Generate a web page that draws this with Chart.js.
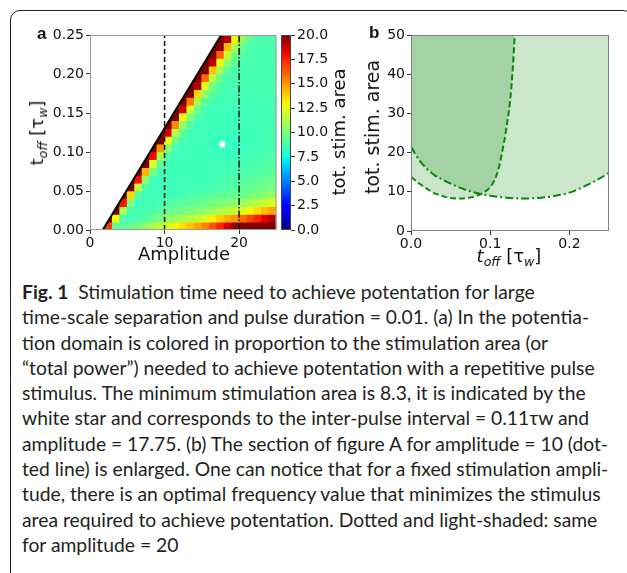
<!DOCTYPE html>
<html>
<head>
<meta charset="utf-8">
<script src="https://cdn.jsdelivr.net/npm/chart.js@4.4.1/dist/chart.umd.min.js"></script>
<style>
body { margin:0; background:#fff; width:627px; height:573px; overflow:hidden; position:relative; font-family:"DejaVu Sans", sans-serif; }
canvas { position:absolute; }
#frame { position:absolute; left:10px; top:10px; width:621px; height:640px; border:1.4px solid #231f20; border-radius:10px; }
.rot { position:absolute; transform:translate(-50%,-50%) rotate(-90deg); white-space:nowrap; font-size:18px; color:#111; }
.hz { position:absolute; transform:translate(-50%,-50%); white-space:nowrap; font-size:18px; color:#111; }
.tag { position:absolute; font-family:"Liberation Sans", Arial, sans-serif; font-weight:bold; font-size:17px; color:#111; }
sub { font-size:0.7em; vertical-align:-0.3em; font-style:italic; }
#caption { position:absolute; left:22px; top:279px; font-family:Lato, sans-serif; font-size:19.3px; line-height:25.3px; color:#231f20; white-space:nowrap; }
</style>
</head>
<body>
<div id="frame"></div>
<canvas id="heat" width="282" height="250" style="left:0;top:20px"></canvas>
<canvas id="cbar" width="100" height="230" style="left:270px;top:20px"></canvas>
<canvas id="section" width="262" height="251" style="left:350px;top:20px"></canvas>

<div class="tag" style="left:37px;top:24px">a</div>
<div class="tag" style="left:369px;top:23px">b</div>
<div class="rot" style="left:38px;top:133px">t<sub>off</sub> [τ<sub>w</sub>]</div>
<div class="hz" style="left:184px;top:253px">Amplitude</div>
<div class="rot" style="left:338px;top:132px">tot. stim. area</div>
<div class="rot" style="left:372px;top:127px;font-size:19px">tot. stim. area</div>
<div class="hz" style="left:509px;top:257px"><i>t</i><sub>off</sub> [τ<sub>w</sub>]</div>

<div id="caption">
<div><b>Fig. 1</b>&nbsp; Stimulation time need to achieve potentation for large</div>
<div>time-scale separation and pulse duration = 0.01. (a) In the potentia-</div>
<div>tion domain is colored in proportion to the stimulation area (or</div>
<div>“total power”) needed to achieve potentation with a repetitive pulse</div>
<div>stimulus. The minimum stimulation area is 8.3, it is indicated by the</div>
<div>white star and corresponds to the inter-pulse interval = 0.11τw and</div>
<div>amplitude = 17.75. (b) The section of figure A for amplitude = 10 (dot-</div>
<div>ted line) is enlarged. One can notice that for a fixed stimulation ampli-</div>
<div>tude, there is an optimal frequency value that minimizes the stimulus</div>
<div>area required to achieve potentation. Dotted and light-shaded: same</div>
<div>for amplitude = 20</div>
</div>

<script>
const _ = null;

// panel a grid: amplitude cell centres and t_off cell centres
const ampCentres = [0.5, 1.5, 2.5, 3.5, 4.5, 5.5, 6.5, 7.5, 8.5, 9.5, 10.5, 11.5, 12.5,
  13.5, 14.5, 15.5, 16.5, 17.5, 18.5, 19.5, 20.5, 21.5, 22.5, 23.5, 24.5];
const toffCentres = [0.005, 0.015, 0.025, 0.035, 0.045, 0.055, 0.065, 0.075, 0.085, 0.095,
  0.105, 0.115, 0.125, 0.135, 0.145, 0.155, 0.165, 0.175, 0.185, 0.195, 0.205, 0.215,
  0.225, 0.235, 0.245];

// tot. stim. area per t_off row (null = no potentiation)
const area_t005 = [_, 25, 17, 9.3, 9.3, 9.6, 10, 10.6, 11.2, 11.7, 12.3, 12.9, 13.5, 14.1, 14.7, 15.5, 16.5, 17.5, 18.6, 19.8, 20.7, 21.2, 21.7, 22.2, 22.7];
const area_t015 = [_, _, 25, 12.8, 8.8, 8.8, 8.8, 9.0, 9.5, 10.0, 10.4, 10.8, 11.1, 11.5, 11.8, 12.4, 13.1, 13.8, 14.5, 15.2, 15.9, 16.7, 17.5, 18.3, 19.1];
const area_t025 = [_, _, 25, 25, 11, 8.7, 8.7, 8.7, 8.9, 9.2, 9.4, 9.6, 9.8, 10.0, 10.2, 10.5, 10.8, 11.2, 11.5, 11.9, 12.3, 12.9, 13.5, 14.1, 14.7];
const area_t035 = [_, _, _, 25, 17.8, 10, 8.6, 8.6, 8.6, 8.8, 9.0, 9.1, 9.2, 9.3, 9.5, 9.6, 9.8, 10.0, 10.2, 10.4, 10.7, 11.1, 11.5, 11.9, 12.3];
const area_t045 = [_, _, _, _, 25, 13.6, 9.2, 8.5, 8.5, 8.5, 8.5, 8.5, 8.6, 8.8, 8.9, 9.1, 9.2, 9.3, 9.4, 9.5, 9.6, 9.9, 10.1, 10.4, 10.7];
const area_t055 = [_, _, _, _, 25, 25, 11.8, 8.9, 8.5, 8.5, 8.5, 8.5, 8.5, 8.5, 8.5, 8.6, 8.7, 8.8, 9.0, 9.1, 9.3, 9.4, 9.6, 9.7, 9.9];
const area_t065 = [_, _, _, _, _, 25, 17.9, 10.5, 8.5, 8.5, 8.5, 8.5, 8.5, 8.5, 8.5, 8.5, 8.6, 8.7, 8.8, 9.0, 9.1, 9.2, 9.3, 9.4, 9.5];
const area_t075 = [_, _, _, _, _, _, 25, 14.4, 9.8, 8.6, 8.5, 8.5, 8.5, 8.5, 8.5, 8.5, 8.5, 8.5, 8.6, 8.7, 8.8, 8.9, 9.0, 9.1, 9.2];
const area_t085 = [_, _, _, _, _, _, 25, 25, 12.3, 9.3, 8.5, 8.5, 8.5, 8.5, 8.5, 8.5, 8.5, 8.5, 8.5, 8.6, 8.7, 8.7, 8.8, 8.9, 9.0];
const area_t095 = [_, _, _, _, _, _, _, 25, 18, 11, 9.1, 8.5, 8.5, 8.5, 8.5, 8.5, 8.4, 8.4, 8.4, 8.4, 8.5, 8.6, 8.7, 8.8, 8.9];
const area_t105 = [_, _, _, _, _, _, _, _, 25, 14.9, 10.3, 8.7, 8.5, 8.5, 8.5, 8.5, 8.4, 8.3, 8.3, 8.3, 8.4, 8.5, 8.5, 8.6, 8.7];
const area_t115 = [_, _, _, _, _, _, _, _, 25, 25, 12.8, 9.7, 8.7, 8.5, 8.5, 8.5, 8.4, 8.3, 8.3, 8.3, 8.4, 8.5, 8.5, 8.6, 8.7];
const area_t125 = [_, _, _, _, _, _, _, _, _, 25, 18.5, 11.6, 9.3, 8.6, 8.5, 8.5, 8.4, 8.4, 8.4, 8.4, 8.5, 8.5, 8.6, 8.6, 8.7];
const area_t135 = [_, _, _, _, _, _, _, _, _, 25, 25, 15.3, 10.7, 9.0, 8.5, 8.5, 8.5, 8.4, 8.4, 8.4, 8.5, 8.5, 8.6, 8.6, 8.7];
const area_t145 = [_, _, _, _, _, _, _, _, _, _, 25, 25, 13, 10.1, 8.8, 8.5, 8.5, 8.5, 8.5, 8.5, 8.5, 8.5, 8.6, 8.6, 8.7];
const area_t155 = [_, _, _, _, _, _, _, _, _, _, _, 25, 18.7, 12, 9.6, 8.7, 8.5, 8.5, 8.5, 8.5, 8.5, 8.5, 8.6, 8.6, 8.7];
const area_t165 = [_, _, _, _, _, _, _, _, _, _, _, 25, 25, 15.6, 11, 9.3, 8.7, 8.6, 8.6, 8.6, 8.6, 8.6, 8.6, 8.7, 8.7];
const area_t175 = [_, _, _, _, _, _, _, _, _, _, _, _, 25, 25, 13.6, 10.5, 9.1, 8.7, 8.6, 8.6, 8.6, 8.6, 8.6, 8.7, 8.7];
const area_t185 = [_, _, _, _, _, _, _, _, _, _, _, _, _, 25, 19, 12.4, 10, 8.9, 8.7, 8.7, 8.7, 8.7, 8.7, 8.7, 8.8];
const area_t195 = [_, _, _, _, _, _, _, _, _, _, _, _, _, 25, 25, 16, 11.5, 9.5, 8.8, 8.7, 8.7, 8.7, 8.7, 8.7, 8.8];
const area_t205 = [_, _, _, _, _, _, _, _, _, _, _, _, _, _, 25, 25, 14, 10.8, 9.3, 8.8, 8.7, 8.7, 8.7, 8.7, 8.8];
const area_t215 = [_, _, _, _, _, _, _, _, _, _, _, _, _, _, _, 25, 19, 12.6, 10.3, 9.2, 8.8, 8.7, 8.7, 8.7, 8.8];
const area_t225 = [_, _, _, _, _, _, _, _, _, _, _, _, _, _, _, 25, 25, 16.2, 11.9, 9.9, 9.0, 8.8, 8.7, 8.7, 8.8];
const area_t235 = [_, _, _, _, _, _, _, _, _, _, _, _, _, _, _, _, 25, 25, 14.3, 11.1, 9.5, 8.9, 8.8, 8.8, 8.8];
const area_t245 = [_, _, _, _, _, _, _, _, _, _, _, _, _, _, _, _, 25, 25, 19, 12.9, 10.6, 9.4, 8.9, 8.8, 8.8];

// edge of the potentiation domain (amplitude, t_off)
const edgeAmp = [1.7, 17.6];
const edgeToff = [0, 0.25];
const sectionAmps = [10, 20];
const starAmp = 17.75, starToff = 0.11;

const ampTicks = [0, 10, 20];
const toffTicks = [0, 0.05, 0.1, 0.15, 0.2, 0.25];
const cbarTicks = [0, 2.5, 5, 7.5, 10, 12.5, 15, 17.5, 20];
const areaMin = 0, areaMax = 20;

// panel b: sections for amplitude 10 (dashed) and 20 (dash-dot)
const amp10Toff = [0, 0.01, 0.02, 0.03, 0.04, 0.05, 0.06, 0.07, 0.08, 0.09, 0.1, 0.105, 0.11, 0.115, 0.12, 0.125, 0.128, 0.131];
const amp10Area = [13.8, 12.2, 10.8, 9.6, 8.9, 8.4, 8.3, 8.4, 8.8, 9.6, 11.2, 12.8, 15.5, 20, 25.7, 33, 40, 50];
const amp20Toff = [0, 0.01, 0.02, 0.03, 0.04, 0.05, 0.06, 0.08, 0.1, 0.12, 0.14, 0.16, 0.18, 0.2, 0.22, 0.24, 0.25];
const amp20Area = [21.5, 18.2, 15.9, 14.2, 13.1, 12.1, 11.2, 9.8, 9.0, 8.5, 8.3, 8.4, 8.9, 9.8, 11.5, 13.6, 14.9];
const secToffTicks = [0, 0.1, 0.2];
const secAreaTicks = [0, 10, 20, 30, 40, 50];

const heatRows = [area_t005, area_t015, area_t025, area_t035, area_t045, area_t055, area_t065,
  area_t075, area_t085, area_t095, area_t105, area_t115, area_t125, area_t135, area_t145,
  area_t155, area_t165, area_t175, area_t185, area_t195, area_t205, area_t215, area_t225,
  area_t235, area_t245];

// matplotlib jet
function jet(f) {
  f = Math.max(0, Math.min(1, f));
  const seg = pts => {
    for (let k = 1; k < pts.length; k++) {
      if (f <= pts[k][0]) {
        const [x0, y0] = pts[k - 1], [x1, y1] = pts[k];
        return y0 + (y1 - y0) * (f - x0) / (x1 - x0);
      }
    }
    return pts[pts.length - 1][1];
  };
  const r = seg([[0, 0], [0.35, 0], [0.66, 1], [0.89, 1], [1, 0.5]]);
  const g = seg([[0, 0], [0.125, 0], [0.375, 1], [0.64, 1], [0.91, 0], [1, 0]]);
  const b = seg([[0, 0.5], [0.11, 1], [0.34, 1], [0.65, 0], [1, 0]]);
  return `rgb(${Math.round(r * 255)},${Math.round(g * 255)},${Math.round(b * 255)})`;
}

const heatPoints = [];
heatRows.forEach((row, i) => row.forEach((v, j) => {
  if (v !== null) heatPoints.push({ x: ampCentres[j], y: toffCentres[i], v: v });
}));

const frame = color => ({
  id: 'frame',
  afterDatasetsDraw(chart) {
    const { ctx, chartArea: a } = chart;
    ctx.save();
    ctx.strokeStyle = color;
    ctx.lineWidth = 1;
    ctx.strokeRect(a.left + 0.5, a.top + 0.5, a.width - 1, a.height - 1);
    ctx.restore();
  }
});

const tickFont = { family: 'DejaVu Sans', size: 14 };
const tickGrid = { drawOnChartArea: false, tickLength: 4, color: '#333' };
const base = {
  responsive: false, animation: false, events: [], devicePixelRatio: 1,
  plugins: { legend: { display: false }, tooltip: { enabled: false } }
};

// cell size in pixels from the scales
function cellRadius(c) {
  const s = c.chart.scales;
  const w = Math.abs(s.x.getPixelForValue(1) - s.x.getPixelForValue(0));
  const h = Math.abs(s.y.getPixelForValue(0) - s.y.getPixelForValue(0.01));
  return (Math.max(w, h) + 0.6) / Math.SQRT2;
}

const maskPts = [{ x: 0, y: 0 }, { x: edgeAmp[0], y: edgeToff[0] }, { x: edgeAmp[1], y: edgeToff[1] }];
const edgePts = edgeAmp.map((a, k) => ({ x: a, y: edgeToff[k] }));

new Chart(document.getElementById('heat'), {
  type: 'scatter',
  data: {
    datasets: [
      { data: heatPoints, pointStyle: 'rect', pointRadius: cellRadius, pointBorderWidth: 0,
        pointBackgroundColor: c => jet((c.raw.v - areaMin) / (areaMax - areaMin)), order: 6, clip: 0 },
      { type: 'line', data: maskPts, borderColor: 'rgba(0,0,0,0)', borderWidth: 1, pointRadius: 0,
        fill: 'end', backgroundColor: '#fff', order: 5, clip: 0 },
      { type: 'line', data: edgePts, borderColor: '#000', borderWidth: 2, pointRadius: 0, order: 4, clip: 0 },
      { type: 'line', data: [{ x: sectionAmps[0], y: 0 }, { x: sectionAmps[0], y: 0.25 }], borderColor: '#111',
        borderWidth: 1.5, borderDash: [5, 3], pointRadius: 0, order: 3, clip: 0 },
      { type: 'line', data: [{ x: sectionAmps[1], y: 0 }, { x: sectionAmps[1], y: 0.25 }], borderColor: '#111',
        borderWidth: 1.5, borderDash: [7, 2, 1.5, 2], pointRadius: 0, order: 2, clip: 0 },
      { data: [{ x: starAmp, y: starToff }], pointStyle: 'star', pointRadius: 3.5, pointBorderColor: '#fff',
        pointBorderWidth: 1.6, order: 1 }
    ]
  },
  options: Object.assign({}, base, {
    layout: { padding: { left: 0, right: 4, top: 15, bottom: 0 } },
    scales: {
      x: { type: 'linear', min: 0, max: 25, grid: tickGrid, border: { display: false },
        afterBuildTicks: s => { s.ticks = ampTicks.map(v => ({ value: v })); },
        afterFit: s => { s.height = 40; },
        ticks: { font: tickFont, color: '#111', padding: 1, maxRotation: 0, callback: v => String(v) } },
      y: { type: 'linear', min: 0, max: 0.25, grid: tickGrid, border: { display: false },
        afterBuildTicks: s => { s.ticks = toffTicks.map(v => ({ value: v })); },
        afterFit: s => { s.width = 90; },
        ticks: { font: tickFont, color: '#111', padding: 2, callback: v => v.toFixed(2) } }
    }
  }),
  plugins: [frame('#9a9a9a')]
});

new Chart(document.getElementById('cbar'), {
  type: 'bar',
  data: {
    labels: ['area'],
    datasets: [{
      data: [[areaMin, areaMax]], barPercentage: 1, categoryPercentage: 1, borderWidth: 0,
      backgroundColor: c => {
        const a = c.chart.chartArea;
        if (!a) return null;
        const g = c.chart.ctx.createLinearGradient(0, a.bottom, 0, a.top);
        for (let k = 0; k <= 40; k++) g.addColorStop(k / 40, jet(k / 40));
        return g;
      }
    }]
  },
  options: Object.assign({}, base, {
    layout: { padding: { left: 11, right: 0, top: 15, bottom: 20 } },
    scales: {
      x: { display: false },
      y: { type: 'linear', position: 'right', min: areaMin, max: areaMax, grid: tickGrid, border: { display: false },
        afterBuildTicks: s => { s.ticks = cbarTicks.map(v => ({ value: v })); },
        afterFit: s => { s.width = 79; },
        ticks: { font: tickFont, color: '#111', padding: 2, callback: v => v.toFixed(1) } }
    }
  }),
  plugins: [frame('#444')]
});

const green = '#0a860a';
new Chart(document.getElementById('section'), {
  type: 'scatter',
  data: {
    datasets: [
      { data: amp10Toff.map((t, k) => ({ x: t, y: amp10Area[k] })), showLine: true, borderColor: green,
        borderWidth: 2, borderDash: [6, 3], pointRadius: 0, fill: 'end', backgroundColor: 'rgba(0,128,0,0.2)',
        cubicInterpolationMode: 'monotone', clip: 0 },
      { data: amp20Toff.map((t, k) => ({ x: t, y: amp20Area[k] })), showLine: true, borderColor: green,
        borderWidth: 2, borderDash: [8, 3, 2, 3], pointRadius: 0, fill: 'end', backgroundColor: 'rgba(0,128,0,0.2)',
        cubicInterpolationMode: 'monotone', clip: 0 }
    ]
  },
  options: Object.assign({}, base, {
    layout: { padding: { left: 0, right: 3, top: 15, bottom: 0 } },
    plugins: { legend: { display: false }, tooltip: { enabled: false }, filler: { drawTime: 'beforeDatasetsDraw' } },
    scales: {
      x: { type: 'linear', min: 0, max: 0.25, grid: tickGrid, border: { display: false },
        afterBuildTicks: s => { s.ticks = secToffTicks.map(v => ({ value: v })); },
        afterFit: s => { s.height = 40; },
        ticks: { font: tickFont, color: '#111', padding: 1, maxRotation: 0, callback: v => v.toFixed(1) } },
      y: { type: 'linear', min: 0, max: 50, grid: tickGrid, border: { display: false },
        afterBuildTicks: s => { s.ticks = secAreaTicks.map(v => ({ value: v })); },
        afterFit: s => { s.width = 61; },
        ticks: { font: tickFont, color: '#111', padding: 2, callback: v => String(v) } }
    }
  }),
  plugins: [frame('#808080')]
});
</script>
</body>
</html>
